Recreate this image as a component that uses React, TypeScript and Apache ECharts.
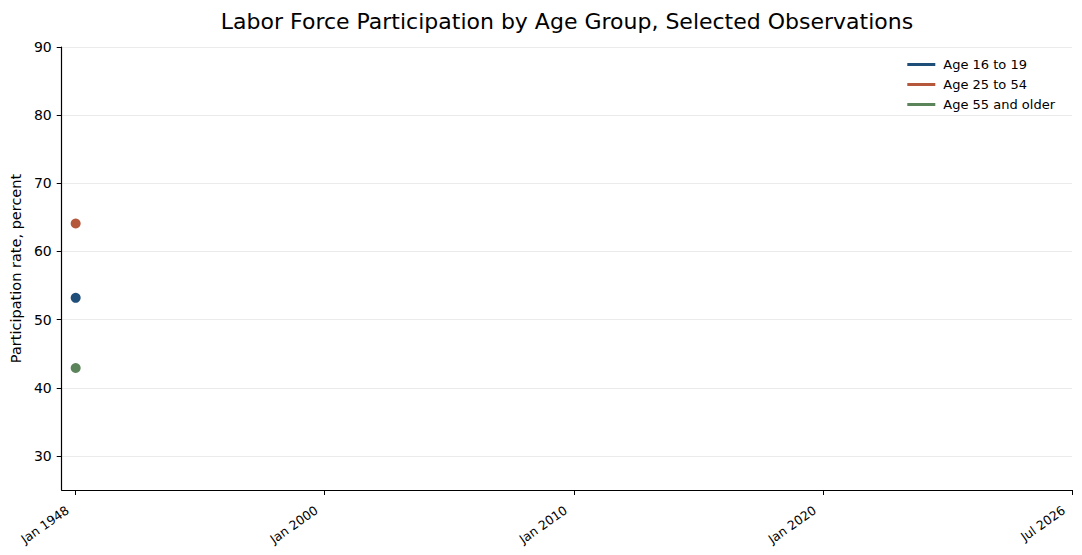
import React, { useEffect, useRef } from "react";
import * as echarts from "echarts";

const categories = ["Jan 1948", "Jan 2000", "Jan 2010", "Jan 2020", "Jul 2026"];
const age16to19: (number | null)[] = [53.2, null, null, null, null];
const age25to54: (number | null)[] = [64.1, null, null, null, null];
const age55plus: (number | null)[] = [42.9, null, null, null, null];
const yTicks = [30, 40, 50, 60, 70, 80, 90];

const seriesNames = ["Age 16 to 19", "Age 25 to 54", "Age 55 and older"];
const seriesColors = ["#1f4e79", "#b5573b", "#5b845b"];
const seriesValues = [age16to19, age25to54, age55plus];

const FONT = "DejaVu Sans";

export default function App() {
  const ref = useRef<HTMLDivElement>(null);
  useEffect(() => {
    document.body.style.margin = "0";
    if (!ref.current) return;
    const chart = echarts.init(ref.current, null, { renderer: "svg" });
    const xTickValues = categories.map((_, i) => i);
    chart.setOption({
      animation: false,
      backgroundColor: "#ffffff",
      textStyle: { fontFamily: FONT },
      title: {
        text: "Labor Force Participation by Age Group, Selected Observations",
        left: 562,
        top: 5,
        textAlign: "center",
        textStyle: { fontFamily: FONT, fontSize: 22, fontWeight: "normal", color: "#000" },
      },
      legend: {
        orient: "vertical",
        right: 22,
        top: 52,
        icon: "rect",
        itemWidth: 28,
        itemHeight: 3,
        itemGap: 5,
        itemStyle: { opacity: 1 },
        formatter: (name: string) => `{t|${name}}`,
        textStyle: {
          fontFamily: FONT,
          fontSize: 13,
          color: "#000",
          lineHeight: 15,
          rich: {
            t: { fontFamily: FONT, fontSize: 13, color: "#000", lineHeight: 15, padding: [0, 0, 0, 3] },
          },
        },
        data: seriesNames.map((n, i) => ({ name: n, itemStyle: { color: seriesColors[i], opacity: 1 } })),
      },
      grid: { left: 60, right: 10, top: 47, bottom: 65, containLabel: false },
      xAxis: {
        type: "value",
        min: -0.056,
        max: categories.length - 1,
        axisLine: { show: true, onZero: false, lineStyle: { color: "#000", width: 1.2 } },
        axisTick: {
          show: true,
          length: 5,
          lineStyle: { color: "#000" },
          customValues: xTickValues,
        },
        axisLabel: {
          customValues: xTickValues,
          formatter: (v: number) => categories[Math.round(v)] ?? "",
          rotate: 35,
          fontFamily: FONT,
          fontSize: 12.5,
          color: "#000",
          margin: 13,
          padding: [0, 10, 0, 0],
        },
        splitLine: { show: false },
      },
      yAxis: {
        type: "value",
        min: 25,
        max: 90,
        name: "Participation rate, percent",
        nameLocation: "middle",
        nameGap: 37,
        nameTextStyle: { fontFamily: FONT, fontSize: 14.5, color: "#000" },
        axisLine: { show: true, onZero: false, lineStyle: { color: "#000", width: 1.2 } },
        axisTick: { show: true, length: 5, lineStyle: { color: "#000" }, customValues: yTicks },
        axisLabel: {
          customValues: yTicks,
          fontFamily: FONT,
          fontSize: 14,
          color: "#000",
          margin: 10,
        },
        splitLine: { show: false },
      },
      series: seriesNames.map((name, si) => ({
        name,
        type: "scatter",
        symbol: "circle",
        symbolSize: 10,
        itemStyle: { color: seriesColors[si], opacity: 1 },
        data: categories.map((_, i) => [i, seriesValues[si][i]]).filter((d) => d[1] !== null),
        markLine:
          si === 0
            ? {
                silent: true,
                symbol: "none",
                label: { show: false },
                lineStyle: { color: "#ebebeb", type: "solid", width: 1 },
                data: yTicks.map((t) => ({ yAxis: t })),
                z: 0,
              }
            : undefined,
        z: 3,
      })),
    });
    return () => chart.dispose();
  }, []);
  return <div ref={ref} style={{ width: 1082, height: 555 }} />;
}
